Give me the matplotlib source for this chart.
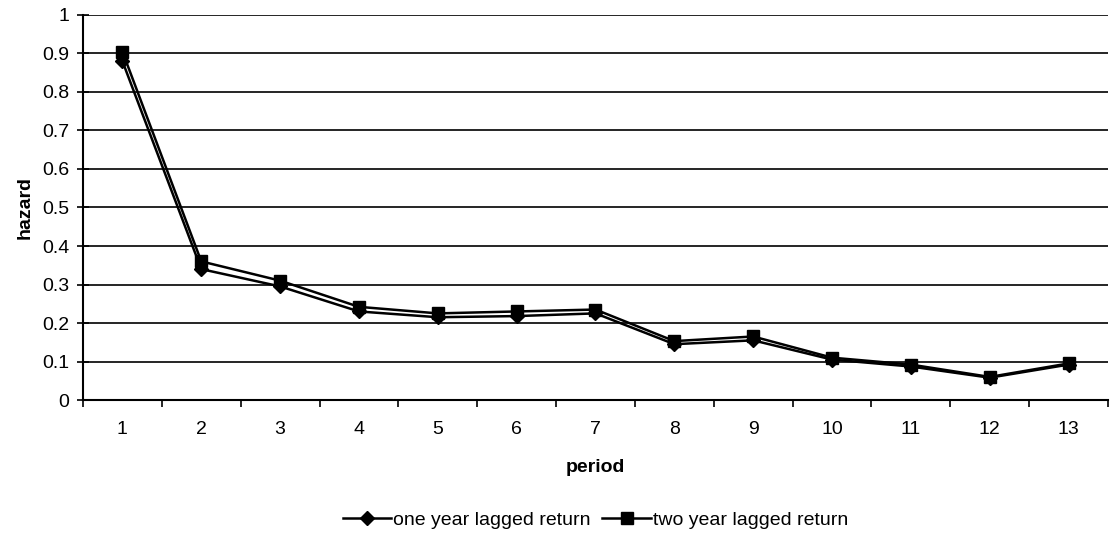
import matplotlib
matplotlib.use('Agg')
import matplotlib.pyplot as plt
import numpy as np

plt.rcParams['font.family'] = ['Liberation Sans', 'DejaVu Sans']

periods = list(range(1, 14))
one_year = [0.88, 0.34, 0.295, 0.23, 0.215, 0.218, 0.225, 0.145, 0.155, 0.105, 0.087, 0.058, 0.092]
two_year = [0.905, 0.36, 0.31, 0.242, 0.225, 0.23, 0.235, 0.153, 0.165, 0.11, 0.092, 0.06, 0.095]
y_ticks = [0, 0.1, 0.2, 0.3, 0.4, 0.5, 0.6, 0.7, 0.8, 0.9, 1]
y_labels = ['0', '0.1', '0.2', '0.3', '0.4', '0.5', '0.6', '0.7', '0.8', '0.9', '1']

fig = plt.figure(figsize=(11.11, 5.33), dpi=100)
ax = fig.add_axes([0.0747, 0.2495, 0.9226, 0.7224])

for y in y_ticks[1:]:
    ax.axhline(y, color='black', lw=1.2, zorder=1)

ax.plot(periods, one_year, color='black', lw=1.8, marker='D', ms=7,
        label='one year lagged return', zorder=3)
ax.plot(periods, two_year, color='black', lw=1.8, marker='s', ms=8,
        label='two year lagged return', zorder=3)

ax.set_xlim(0.5, 13.5)
ax.set_ylim(0, 1)
ax.set_xticks(periods)
ax.set_xticklabels([str(p) for p in periods], fontsize=14)
ax.set_xticks(np.arange(0.5, 14, 1), minor=True)
ax.tick_params(axis='x', which='major', length=0, pad=15)
ax.tick_params(axis='x', which='minor', length=5, width=1.2, direction='out')
ax.set_yticks(y_ticks)
ax.set_yticklabels(y_labels, fontsize=14)
ax.tick_params(axis='y', length=8, width=1.2, direction='inout', pad=6)

for s in ['top', 'right']:
    ax.spines[s].set_visible(False)
for s in ['left', 'bottom']:
    ax.spines[s].set_linewidth(1.5)

ax.set_xlabel('period', fontsize=14, fontweight='bold', labelpad=15)
ax.set_ylabel('hazard', fontsize=14, fontweight='bold', labelpad=6)

fig.legend(loc='center', bbox_to_anchor=(0.536, 1 - 520 / 533), ncol=2, frameon=False,
           fontsize=14, handlelength=2.5, handletextpad=0.1, columnspacing=0.6)

fig.savefig('out.png', dpi=100)
